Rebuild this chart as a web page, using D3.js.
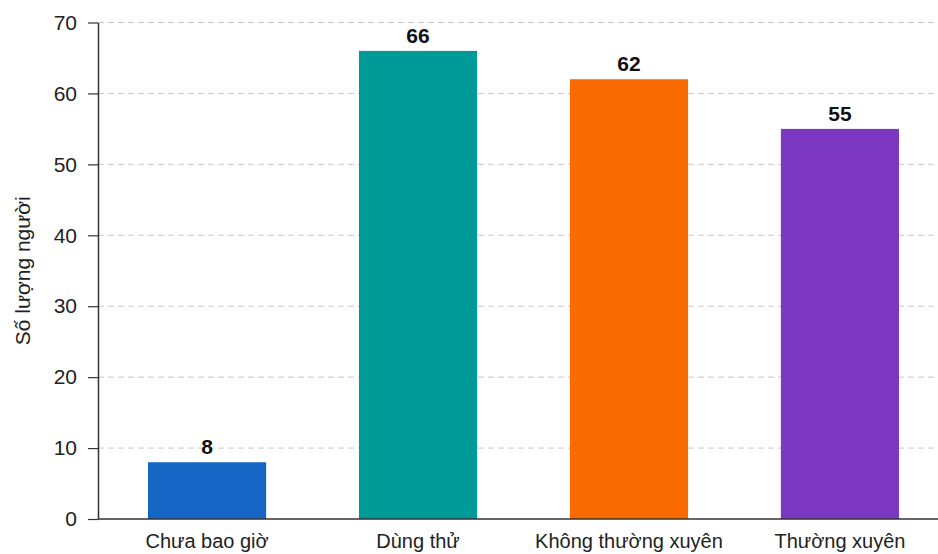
<!DOCTYPE html>
<html><head><meta charset="utf-8">
<script src="https://cdn.jsdelivr.net/npm/d3@7"></script>
<style>body{margin:0;background:#fff}svg{display:block;font-family:"Liberation Sans",Arial,sans-serif}</style>
</head><body>
<svg id="c" width="938" height="554"></svg>
<script>
const categories = ["Chưa bao giờ", "Dùng thử", "Không thường xuyên", "Thường xuyên"];
const values = [8, 66, 62, 55];
const colors = ["#1565c4", "#009a98", "#f96b00", "#7c38c0"];
const yTicks = [0, 10, 20, 30, 40, 50, 60, 70];
const yLabel = "Số lượng người";

const svg = d3.select("#c");
const x0 = 98, x1 = 949, yTop = 22.5, yBot = 519;
const x = d3.scaleBand().domain(categories).range([x0, x1]).paddingInner(0.44).paddingOuter(0.237);
const y = d3.scaleLinear().domain([0, 70]).range([yBot, yTop]);

// gridlines
svg.append("g").selectAll("line").data(yTicks.filter(d => d > 0)).join("line")
  .attr("x1", x0).attr("x2", 938).attr("y1", d => y(d)).attr("y2", d => y(d))
  .attr("stroke", "#c8c8c8").attr("stroke-width", 1).attr("stroke-dasharray", "6,4");

// bars
svg.append("g").selectAll("rect").data(categories).join("rect")
  .attr("x", d => x(d)).attr("width", x.bandwidth())
  .attr("y", (d, i) => y(values[i])).attr("height", (d, i) => yBot - y(values[i]))
  .attr("fill", (d, i) => colors[i]);

// value labels
svg.append("g").selectAll("text").data(categories).join("text")
  .attr("x", d => x(d) + x.bandwidth() / 2).attr("y", (d, i) => y(values[i]) - 8)
  .attr("text-anchor", "middle").attr("font-weight", "bold").attr("font-size", 21).attr("fill", "#111")
  .text((d, i) => values[i]);

// y axis
const ya = svg.append("g").attr("transform", `translate(${x0},0)`)
  .call(d3.axisLeft(y).tickValues(yTicks).tickSize(10).tickPadding(11).tickSizeOuter(0));
ya.select(".domain").attr("stroke", "#333").attr("stroke-width", 1.5);
ya.selectAll(".tick line").attr("stroke", "#333").attr("stroke-width", 1.2);
ya.selectAll("text").attr("font-size", 21).attr("fill", "#222").attr("font-family", "Liberation Sans, Arial, sans-serif");

// x axis
const xa = svg.append("g").attr("transform", `translate(0,${yBot})`)
  .call(d3.axisBottom(x).tickSize(0).tickPadding(15).tickSizeOuter(0));
xa.select(".domain").attr("d", `M${x0},0H938`).attr("stroke", "#333").attr("stroke-width", 1.5);
xa.selectAll("text").attr("font-size", 20).attr("fill", "#222").attr("font-family", "Liberation Sans, Arial, sans-serif");

// y label
svg.append("text").attr("transform", `translate(30,${(yTop + yBot) / 2}) rotate(-90)`)
  .attr("text-anchor", "middle").attr("font-size", 21).attr("fill", "#222").text(yLabel);
</script>
</body></html>
